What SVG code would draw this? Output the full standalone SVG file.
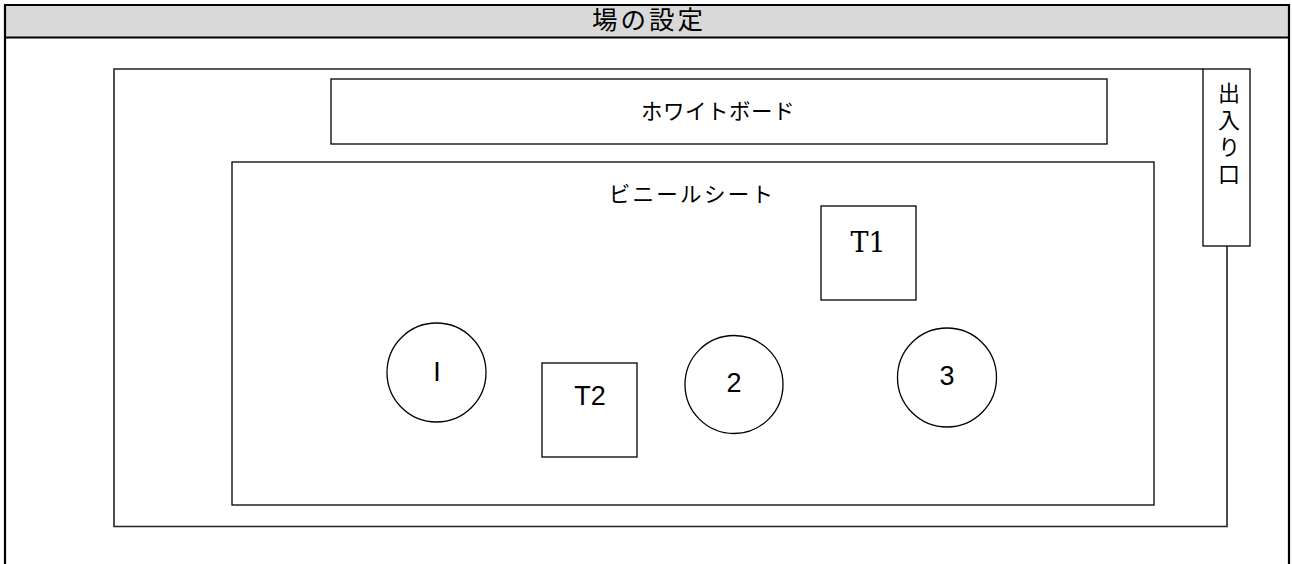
<svg xmlns="http://www.w3.org/2000/svg" width="1292" height="564" viewBox="0 0 1292 564">
<style>
.frame{fill:none;stroke:#000;stroke-width:2.2}
.shape{fill:#fff;stroke:#000;stroke-width:1.3}
.room{fill:none;stroke:#222;stroke-width:1.6}
.jp{font-family:"Noto Sans CJK JP","Noto Sans",sans-serif;fill:#000}
.sans{font-family:"Liberation Sans",Arial,sans-serif;fill:#000}
.serif{font-family:"DejaVu Serif","Liberation Serif",serif;fill:#000}
</style>
<rect x="0" y="0" width="1292" height="564" fill="#fff"/>
<g id="header">
<rect x="5" y="5" width="1284" height="32" fill="#d9d9d9"/>
<line class="frame" x1="4" y1="5" x2="1290" y2="5"/>
<line class="frame" x1="4" y1="37.5" x2="1290" y2="37.5"/>
<line class="frame" x1="5" y1="4" x2="5" y2="564"/>
<line class="frame" x1="1289" y1="4" x2="1289" y2="564"/>
<text class="jp" x="649" y="29" font-size="25.5" text-anchor="middle" letter-spacing="3">場の設定</text>
</g>
<g id="room">
<path class="room" d="M1203,69 H114 V526.5 H1227 V246"/>
</g>
<g id="entrance">
<rect class="shape" x="1203" y="69" width="47" height="177"/>
<text class="jp" x="1229" y="82" font-size="22" writing-mode="vertical-rl" letter-spacing="5">出入り口</text>
</g>
<g id="whiteboard">
<rect class="shape" x="331" y="79" width="776" height="65"/>
<text class="jp" x="718" y="119" font-size="21.5" text-anchor="middle" letter-spacing="0.5">ホワイトボード</text>
</g>
<g id="vinyl-sheet">
<rect class="shape" x="232" y="162" width="922" height="343"/>
<text class="jp" x="692" y="202" font-size="21.5" text-anchor="middle" letter-spacing="2.3">ビニールシート</text>
</g>
<g id="T1">
<rect class="shape" x="821" y="206" width="95" height="94"/>
<text class="serif" x="868" y="252" font-size="27" text-anchor="middle">T1</text>
</g>
<g id="T2">
<rect class="shape" x="542" y="363" width="95" height="94"/>
<text class="sans" x="590" y="405" font-size="27" text-anchor="middle">T2</text>
</g>
<g id="c1">
<circle class="shape" cx="436.5" cy="372.5" r="49.5"/>
<text class="sans" x="437" y="381" font-size="27" text-anchor="middle">I</text>
</g>
<g id="c2">
<circle class="shape" cx="734" cy="384.5" r="49"/>
<text class="sans" x="734" y="392" font-size="27" text-anchor="middle">2</text>
</g>
<g id="c3">
<circle class="shape" cx="947" cy="377.5" r="49.5"/>
<text class="sans" x="947" y="385" font-size="27" text-anchor="middle">3</text>
</g>
</svg>
